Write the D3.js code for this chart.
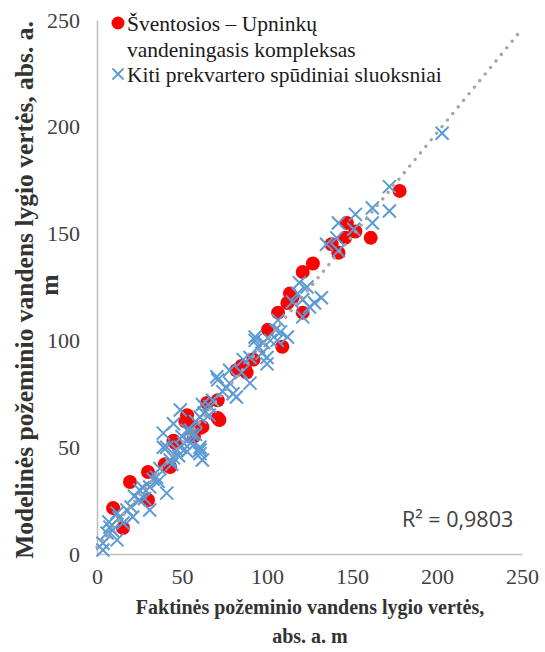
<!DOCTYPE html>
<html>
<head>
<meta charset="utf-8">
<script src="https://cdn.jsdelivr.net/npm/d3@7"></script>
<style>
  body { margin: 0; background: #fff; }
  svg { display: block; }
</style>
</head>
<body>
<div id="chart"></div>
<script>
// data
const ticks = [0, 50, 100, 150, 200, 250];

const seriesNames = ['Šventosios – Upninkų vandeningasis kompleksas', 'Kiti prekvartero spūdiniai sluoksniai'];

const sventosiosX = [9.5, 15.3, 19.4, 30, 30, 43, 46, 45, 53, 56.5, 62, 60.6, 64.7, 71, 71, 72, 40, 52, 57,
	82, 87, 88, 85, 92, 100.6, 106.5, 109, 112, 113.5, 115, 121, 121, 127, 138, 142, 146, 147, 152, 161, 178];
const sventosiosY = [21.5, 12.2, 33.7, 25.3, 38.4, 40.7, 52, 53, 65, 59.5, 59.5, 59, 70.7, 72, 63.7, 62.7, 42, 62, 55,
	86, 87.6, 85, 88, 91, 105, 113, 97, 117.5, 122, 120, 113, 132, 136, 145, 141, 148, 155, 151, 148, 170];

const kitiX = [3.5, 3.5, 5.9, 7.6, 11.8, 11.8, 15.3, 17.6, 21, 25, 31, 31, 35, 41, 39, 43, 49, 47, 55, 53,
	60.6, 60.6, 60.6, 51, 41, 39, 45, 49, 60.6, 66.5, 70.5, 71, 78, 78, 80, 82, 86, 90, 90, 93, 93, 98, 100, 100,
	105, 106.5, 112, 119, 121, 121, 123.5, 125, 128, 132, 135, 141, 142, 142, 151, 152, 162, 162, 172, 172, 203,
	25, 28, 33, 37, 45, 50, 55, 58, 63, 68, 74, 76, 85, 95, 97, 102, 108, 115, 118, 7, 9, 13, 20, 22, 48, 53, 56,
	66, 62, 58, 44, 36, 27, 106, 62];
const kitiY = [1.9, 5, 9.8, 12.6, 6.6, 19.2, 14.5, 20.6, 17.3, 25.3, 20.6, 31.4, 36, 28.5, 50, 44, 50, 48.7, 58, 58,
	50, 47, 48.7, 52, 50, 56.6, 61, 67.4, 64, 69, 83, 81.5, 80, 86, 75, 73.5, 91, 80, 92, 101.6, 100, 99, 92, 89,
	105, 109.5, 101.6, 127, 119, 111, 125, 115.6, 117.5, 120, 145, 148, 155, 142, 152, 159, 162, 155, 160.6, 172, 197,
	30, 26, 35, 40, 45, 55, 52, 62, 66, 72, 76, 78, 85, 97, 94, 100, 104, 118, 122, 15, 11, 17, 22, 27, 46, 48, 56,
	65, 70, 56, 42, 34, 31, 100, 44];

const rSquaredLabel = 'R² = 0,9803';

const W = 545, H = 652;
const M = { left: 97, right: 23, top: 20, bottom: 98 };

const svg = d3.select('#chart').append('svg')
	.attr('width', W)
	.attr('height', H);

const x = d3.scaleLinear().domain([0, 250]).range([M.left, W - M.right]);
const y = d3.scaleLinear().domain([0, 250]).range([H - M.bottom, M.top]);

const serif = '"Liberation Serif", "Times New Roman", serif';

// axes, no tick marks, just the grey lines
const axisX = svg.append('g')
	.attr('transform', `translate(0,${y(0)})`)
	.call(d3.axisBottom(x).tickValues(ticks).tickSize(0).tickPadding(14));
const axisY = svg.append('g')
	.attr('transform', `translate(${x(0)},0)`)
	.call(d3.axisLeft(y).tickValues(ticks).tickSize(0).tickPadding(17));

[axisX, axisY].forEach(g => {
	g.select('.domain').attr('stroke', '#bfbfbf').attr('stroke-width', 1.6);
	g.selectAll('text')
		.style('font-family', serif)
		.style('font-size', '22px')
		.attr('fill', '#404040');
});

// series 1: red circles
svg.append('g').selectAll('circle')
	.data(d3.zip(sventosiosX, sventosiosY))
	.join('circle')
		.attr('cx', d => x(d[0]))
		.attr('cy', d => y(d[1]))
		.attr('r', 7)
		.attr('fill', '#ff0000');

// series 2: blue crosses
const cross = s => `M${-s},${-s}L${s},${s}M${-s},${s}L${s},${-s}`;
svg.append('g').selectAll('path')
	.data(d3.zip(kitiX, kitiY))
	.join('path')
		.attr('transform', d => `translate(${x(d[0])},${y(d[1])})`)
		.attr('d', cross(6.5))
		.attr('stroke', '#5b9bd5')
		.attr('stroke-width', 2)
		.attr('fill', 'none');

// linear trendline (least squares over all points), dotted grey
const allX = sventosiosX.concat(kitiX);
const allY = sventosiosY.concat(kitiY);
const mx = d3.mean(allX), my = d3.mean(allY);
const slope = d3.sum(allX, (v, i) => (v - mx) * (allY[i] - my)) / d3.sum(allX, v => (v - mx) * (v - mx));
const intercept = my - slope * mx;

svg.append('line')
	.attr('x1', x(0)).attr('y1', y(intercept))
	.attr('x2', x(250)).attr('y2', y(intercept + slope * 250))
	.attr('stroke', '#a5a5a5')
	.attr('stroke-width', 3.3)
	.attr('stroke-linecap', 'round')
	.attr('stroke-dasharray', '0.1 8.4');

svg.append('text')
	.attr('x', 402)
	.attr('y', 527)
	.text(rSquaredLabel)
	.style('font-family', '"Open Sans", "Liberation Sans", sans-serif')
	.style('font-size', '21.5px')
	.attr('fill', '#404040');

// legend
const legend = svg.append('g')
	.style('font-family', serif)
	.style('font-size', '21.5px')
	.attr('fill', '#1a1a1a');
legend.append('circle').attr('cx', 118).attr('cy', 23).attr('r', 6.5).attr('fill', '#ff0000');
legend.append('text').attr('x', 127).attr('y', 31).text('Šventosios – Upninkų');
legend.append('text').attr('x', 127).attr('y', 57).text('vandeningasis kompleksas');
legend.append('path')
	.attr('transform', 'translate(118,74)')
	.attr('d', cross(5.5))
	.attr('stroke', '#5b9bd5')
	.attr('stroke-width', 1.8)
	.attr('fill', 'none');
legend.append('text').attr('x', 127).attr('y', 82).text(seriesNames[1]);

// axis titles
const titleStyle = (g, size) => g
	.style('font-family', serif)
	.style('font-size', size)
	.style('font-weight', 'bold')
	.attr('fill', '#333333')
	.attr('text-anchor', 'middle');

svg.append('text').call(titleStyle, '20px')
	.attr('x', 310).attr('y', 614)
	.text('Faktinės požeminio vandens lygio vertės,');
svg.append('text').call(titleStyle, '20px')
	.attr('x', 310).attr('y', 643)
	.text('abs. a. m');

svg.append('text').call(titleStyle, '25.5px')
	.attr('transform', 'translate(33,290) rotate(-90)')
	.text('Modelinės požeminio vandens lygio vertės, abs. a.');
svg.append('text').call(titleStyle, '25.5px')
	.attr('transform', 'translate(58,285) rotate(-90)')
	.text('m');
</script>
</body>
</html>
